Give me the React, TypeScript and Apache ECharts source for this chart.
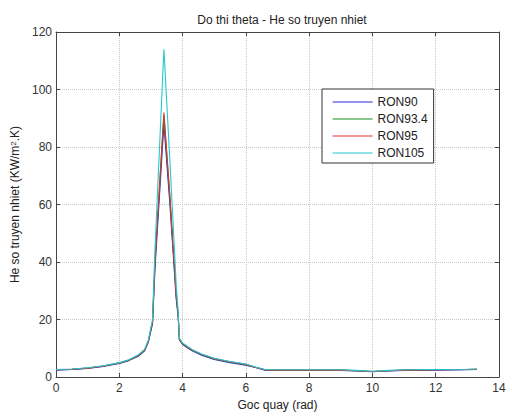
import React, { useEffect, useRef } from "react";
import * as echarts from "echarts";

const xValues = [0, 0.5, 1, 1.5, 2, 2.3, 2.6, 2.8, 2.92, 3.05, 3.13, 3.41, 3.6, 3.8, 3.86, 3.9, 4.0, 4.3, 4.6, 5.0, 5.5, 6.0, 6.3, 6.6, 7, 8, 9, 9.5, 10, 10.5, 11, 12, 13, 13.3];

const ron90 = [2.4, 2.6, 3.0, 3.7, 4.7, 5.7, 7.2, 9.1, 12.2, 18.5, 38, 88, 60, 27, 21, 13, 11.3, 9.1, 7.6, 6.1, 5.0, 4.1, 3.3, 2.4, 2.3, 2.3, 2.3, 2.1, 1.8, 2.1, 2.3, 2.4, 2.5, 2.6];
const ron934 = [2.5, 2.7, 3.1, 3.8, 4.8, 5.8, 7.4, 9.3, 12.5, 19, 40, 91, 62, 28, 21.5, 13, 11.5, 9.3, 7.8, 6.3, 5.2, 4.3, 3.4, 2.5, 2.4, 2.4, 2.4, 2.2, 1.9, 2.2, 2.4, 2.5, 2.6, 2.7];
const ron95 = [2.5, 2.7, 3.1, 3.8, 4.9, 5.9, 7.5, 9.4, 12.6, 19.2, 41, 92, 63, 28.5, 22, 13.2, 11.6, 9.4, 7.9, 6.4, 5.3, 4.4, 3.4, 2.5, 2.4, 2.4, 2.4, 2.2, 1.9, 2.2, 2.4, 2.5, 2.6, 2.7];
const ron105 = [2.6, 2.8, 3.2, 3.9, 5.0, 6.0, 7.7, 9.6, 12.9, 20, 45, 114, 75, 32, 23, 13.5, 11.8, 9.6, 8.0, 6.5, 5.4, 4.5, 3.5, 2.6, 2.5, 2.5, 2.5, 2.3, 2.0, 2.3, 2.5, 2.6, 2.7, 2.8];

const seriesNames = ["RON90", "RON93.4", "RON95", "RON105"];
const seriesValues = [ron90, ron934, ron95, ron105];
const seriesColors = ["#2a2ae0", "#1f8a1f", "#e03030", "#22c8d0"];

const FONT = "Liberation Sans, Arial, sans-serif";
const TXT = "#333";
const AXIS = "#444";

export default function App() {
  const ref = useRef<HTMLDivElement>(null);
  useEffect(() => {
    if (!ref.current) return;
    const chart = echarts.init(ref.current, undefined, { renderer: "svg" });
    const tickStyle = { show: true, inside: true, length: 4, lineStyle: { color: AXIS } };
    const grid = { type: "dotted" as const, color: "#c8c8c8", width: 1 };
    chart.setOption({
      animation: false,
      backgroundColor: "#fff",
      title: {
        text: "Do thi theta - He so truyen nhiet",
        left: 277,
        top: 9,
        textAlign: "center",
        textStyle: { fontFamily: FONT, fontSize: 12, fontWeight: "normal", color: "#222" },
      },
      legend: {
        orient: "vertical",
        left: 322,
        top: 89,
        padding: [7, 6, 4, 10],
        itemWidth: 40,
        itemHeight: 14,
        itemGap: 5,
        itemStyle: { opacity: 0 },
        lineStyle: { width: 1.2 },
        backgroundColor: "#fff",
        borderColor: "#333",
        borderWidth: 1,
        borderRadius: 0,
        textStyle: { fontFamily: FONT, fontSize: 12, color: "#222" },
        data: seriesNames,
      },
      grid: { left: 56, right: 13, top: 32, bottom: 35 },
      xAxis: [
        {
          type: "value",
          min: 0,
          max: 14,
          interval: 2,
          position: "bottom",
          name: "Goc quay (rad)",
          nameLocation: "middle",
          nameGap: 22,
          nameTextStyle: { fontFamily: FONT, fontSize: 12, color: "#222" },
          axisLine: { show: true, onZero: false, lineStyle: { color: AXIS } },
          axisTick: tickStyle,
          axisLabel: { fontFamily: FONT, fontSize: 12, color: TXT, margin: 5 },
          splitLine: { show: true, lineStyle: grid },
        },
        {
          type: "value",
          min: 0,
          max: 14,
          interval: 2,
          position: "top",
          axisLine: { show: true, onZero: false, lineStyle: { color: AXIS } },
          axisTick: tickStyle,
          axisLabel: { show: false },
          splitLine: { show: false },
        },
      ],
      yAxis: [
        {
          type: "value",
          min: 0,
          max: 120,
          interval: 20,
          position: "left",
          name: "He so truyen nhiet (KW/m{sup|2}.K)",
          nameLocation: "middle",
          nameGap: 33,
          nameTextStyle: {
            fontFamily: FONT,
            fontSize: 12,
            color: "#222",
            rich: { sup: { fontFamily: FONT, fontSize: 8, color: "#222", verticalAlign: "top", lineHeight: 8 } },
          },
          axisLine: { show: true, onZero: false, lineStyle: { color: AXIS } },
          axisTick: tickStyle,
          axisLabel: { fontFamily: FONT, fontSize: 12, color: TXT, margin: 4 },
          splitLine: { show: true, lineStyle: grid },
        },
        {
          type: "value",
          min: 0,
          max: 120,
          interval: 20,
          position: "right",
          axisLine: { show: true, onZero: false, lineStyle: { color: AXIS } },
          axisTick: tickStyle,
          axisLabel: { show: false },
          splitLine: { show: false },
        },
      ],
      series: seriesNames.map((name, i) => ({
        name,
        type: "line",
        xAxisIndex: 0,
        yAxisIndex: 0,
        symbol: "none",
        color: seriesColors[i],
        lineStyle: { width: 1.1, color: seriesColors[i] },
        data: xValues.map((x, j) => [x, seriesValues[i][j]]),
      })),
    });
    return () => chart.dispose();
  }, []);
  return (
    <div
      ref={ref}
      style={{ position: "fixed", left: 0, top: 0, width: 512, height: 416 }}
    />
  );
}
